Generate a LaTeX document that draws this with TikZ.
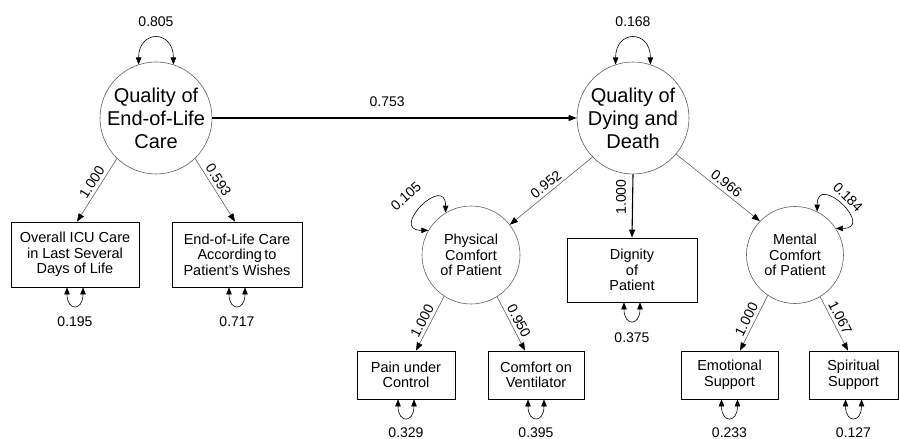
\documentclass[tikz,border=0pt]{standalone}
\usepackage{fontspec}
\setmainfont{Liberation Sans}
\usetikzlibrary{arrows.meta}
\definecolor{lgray}{RGB}{95,95,95}

\begin{document}
\begin{tikzpicture}[x=1pt,y=1pt,
    lat/.style={draw=lgray,line width=0.6pt,circle,inner sep=-12pt,align=center},
    big/.style={lat,minimum size=112pt,font=\fontsize{20}{23}\selectfont},
    small/.style={lat,font=\fontsize{14.5}{15.5}\selectfont},
    obs/.style={draw,line width=0.8pt,minimum height=48pt,align=center,font=\fontsize{14.5}{15.5}\selectfont},
    num/.style={font=\fontsize{14}{16}\selectfont,inner sep=3pt},
    every edge/.style={draw=lgray,line width=0.6pt,-{Triangle[length=8pt,width=6pt,color=black]}},
    var/.style={draw,line width=0.6pt,{Triangle[length=7pt,width=5.5pt]}-{Triangle[length=7pt,width=5.5pt]}}]
  \useasboundingbox (0,0) rectangle (900,439);
  % latent variables
  \node[big] (qeol) at (156,321) {Quality of\\End-of-Life\\Care};
  \node[big] (qdd) at (633,321) {Quality of\\Dying and\\Death};
  \node[small,minimum size=98pt] (phys) at (471,184) {Physical\\Comfort\\of Patient};
  \node[small,minimum size=97pt] (ment) at (795,184) {Mental\\Comfort\\of Patient};
  % observed variables
  \node[obs,minimum width=128pt,minimum height=65pt] (icu) at (75,184.5) {Overall ICU Care\\in Last Several\\Days of Life};
  \node[obs,minimum width=130pt,minimum height=65pt] (wish) at (237,184.5) {End-of-Life Care\\According\,to\\Patient's Wishes};
  \node[obs,minimum width=130pt,minimum height=64pt] (dig) at (632,169) {Dignity\\of\\Patient};
  \node[obs,minimum width=98pt] (pain) at (406,64) {Pain under\\Control};
  \node[obs,minimum width=96pt] (vent) at (536,64) {Comfort on\\Ventilator};
  \node[obs,minimum width=97pt] (emo) at (729.5,64) {Emotional\\Support};
  \node[obs,minimum width=89pt] (spir) at (853.5,64) {Spiritual\\Support};
  % paths
  \path (qeol) edge[draw=black,line width=1.1pt] node[num,above=8pt,pos=0.48] (l0) {0.753} (qdd);
  \path (qeol.226) edge node[num,sloped,above,pos=0.45] (l1) {1.000} ([xshift=2pt]icu.north);
  \path (qeol.314) edge node[num,sloped,above,pos=0.41] (l2) {0.593} ([xshift=-2pt]wish.north);
  \path (qdd.224) edge node[num,sloped,above,pos=0.5] (l3) {0.952} (phys.38);
  \path (qdd.south) edge[draw=black,line width=1.1pt] node[num,rotate=90,anchor=south,inner sep=6pt,pos=0.36] (l4) {1.000} (dig.north);
  \path (qdd.320) edge node[num,sloped,above,pos=0.54] (l5) {0.966} (ment.136);
  \path (phys.237) edge node[num,sloped,above,pos=0.52] (l6) {1.000} ([xshift=10pt]pain.north);
  \path (phys.302) edge node[num,sloped,above,pos=0.52] (l7) {0.950} ([xshift=-11pt]vent.north);
  \path (ment.236) edge node[num,sloped,above,pos=0.5] (l8) {1.000} ([xshift=10.5pt]emo.north);
  \path (ment.301) edge node[num,sloped,above,pos=0.46] (l9) {1.067} ([xshift=-5.5pt]spir.north);
  % variances
  \draw[var] (qeol.108) .. controls +(0,35) and +(0,35) .. (qeol.72);
  \node[num] (v1) at ([yshift=40pt]qeol.north) {0.805};
  \draw[var] (qdd.108) .. controls +(0,35) and +(0,35) .. (qdd.72);
  \node[num] (v2) at ([yshift=40pt]qdd.north) {0.168};
  \draw[var] (phys.121) .. controls +(90:40) and +(180:40) .. (phys.150);
  \node[num,rotate=42] (v3) at (406,243) {0.105};
  \draw[var] (ment.63) .. controls +(90:40) and +(0:40) .. (ment.33);
  \node[num,rotate=-45] (v4) at (848,242) {0.184};
  % residuals
  \draw[var] ([xshift=-8pt]icu.south) .. controls +(0,-24) and +(0,-24) .. ([xshift=8pt]icu.south);
  \node[num] (r1) at ([yshift=-34pt]icu.south) {0.195};
  \draw[var] ([xshift=-8pt]wish.south) .. controls +(0,-24) and +(0,-24) .. ([xshift=8pt]wish.south);
  \node[num] (r2) at ([yshift=-34pt]wish.south) {0.717};
  \draw[var] ([xshift=-8pt]dig.south) .. controls +(0,-24) and +(0,-24) .. ([xshift=8pt]dig.south);
  \node[num] (r3) at ([yshift=-35pt]dig.south) {0.375};
  \draw[var] ([xshift=-8pt]pain.south) .. controls +(0,-24) and +(0,-24) .. ([xshift=8pt]pain.south);
  \node[num] (r4) at ([yshift=-33pt]pain.south) {0.329};
  \draw[var] ([xshift=-8pt]vent.south) .. controls +(0,-24) and +(0,-24) .. ([xshift=8pt]vent.south);
  \node[num] (r5) at ([yshift=-33pt]vent.south) {0.395};
  \draw[var] ([xshift=-8pt]emo.south) .. controls +(0,-24) and +(0,-24) .. ([xshift=8pt]emo.south);
  \node[num] (r6) at ([yshift=-33pt]emo.south) {0.233};
  \draw[var] ([xshift=-8pt]spir.south) .. controls +(0,-24) and +(0,-24) .. ([xshift=8pt]spir.south);
  \node[num] (r7) at ([yshift=-33pt]spir.south) {0.127};
\end{tikzpicture}
\end{document}
